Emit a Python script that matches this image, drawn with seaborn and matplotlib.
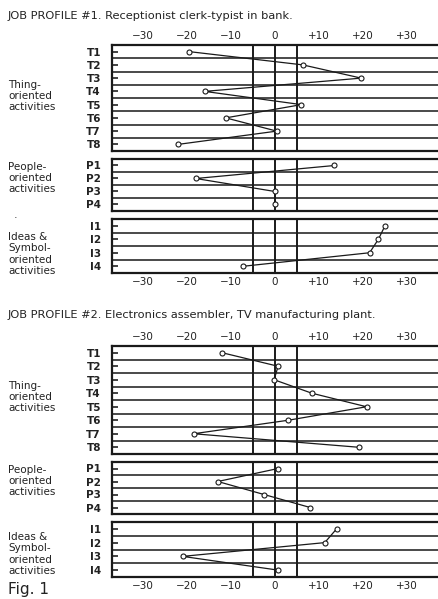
import numpy as np
import pandas as pd
import matplotlib
matplotlib.use("Agg")
import matplotlib.pyplot as plt
import seaborn as sns

sns.set_theme(style="white")
plt.rcParams['font.family'] = ['DejaVu Sans']

# ---------------- data ----------------
thing_rows = ["T1", "T2", "T3", "T4", "T5", "T6", "T7", "T8"]
people_rows = ["P1", "P2", "P3", "P4"]
ideas_rows = ["I1", "I2", "I3", "I4"]

p1_thing = [-19.5, 6.3, 19.6, -16, 6, -11.2, 0.4, -22]
p1_people = [13.5, -18, 0, 0]
p1_ideas = [25, 23.5, 21.5, -7.2]

p2_thing = [-12, 0.7, -0.2, 8.4, 20.8, 3, -18.5, 19]
p2_people = [0.7, -13, -2.5, 8]
p2_ideas = [14, 11.3, -21, 0.7]

xticks = [-30, -20, -10, 0, 10, 20, 30]
xtick_labels = ["\u221230", "\u221220", "\u221210", "0", "+10", "+20", "+30"]
ref_lines = [-5, 0, 5]

titles = ["JOB PROFILE #1. Receptionist clerk-typist in bank.",
          "JOB PROFILE #2. Electronics assembler, TV manufacturing plant."]
group_labels = ["Thing-\noriented\nactivities",
                "People-\noriented\nactivities",
                "Ideas &\nSymbol-\noriented\nactivities"]

# ---------------- layout ----------------
W, H = 438, 599
fig = plt.figure(figsize=(W / 100, H / 100), dpi=100)
fig.patch.set_facecolor("white")

LEFT, RIGHT = 112, 442
PX_PER_UNIT = 4.4
XMIN = -(275 - LEFT) / PX_PER_UNIT
XMAX = XMIN + (RIGHT - LEFT) / PX_PER_UNIT

def add_ax(top, bottom):
    return fig.add_axes([LEFT / W, 1 - bottom / H, (RIGHT - LEFT) / W, (bottom - top) / H])

def draw_panel(ax, rows, values, top_labels=False, bottom_labels=False):
    n = len(rows)
    df = pd.DataFrame({"row": np.arange(n), "value": values})
    sns.lineplot(data=df, x="value", y="row", sort=False, estimator=None,
                 ax=ax, color="#1a1a1a", lw=0.9, marker="o", markersize=3.6,
                 markerfacecolor="white", markeredgecolor="#1a1a1a",
                 markeredgewidth=0.8, legend=False)
    ax.set_xlim(XMIN, XMAX)
    ax.set_ylim(n - 0.5, -0.5)
    ax.set_yticks(np.arange(n))
    ax.set_yticklabels(rows, fontsize=7.5, fontweight="bold", color="#222")
    ax.set_yticks(np.arange(0.5, n - 0.5), minor=True)
    ax.grid(axis="y", which="minor", color="#2a2a2a", lw=1.2)
    ax.grid(axis="x", visible=False)
    ax.grid(axis="y", which="major", visible=False)
    for xv in ref_lines:
        ax.axvline(xv, color="#1a1a1a", lw=1.4, zorder=1)
    ax.tick_params(axis="y", which="major", direction="in", length=4, width=1.2,
                   color="#222", pad=8, left=True)
    ax.tick_params(axis="y", which="minor", length=0)
    ax.set_xticks(xticks)
    ax.set_xticklabels(xtick_labels, fontsize=7.5, color="#222")
    ax.tick_params(axis="x", length=0, top=False, bottom=False,
                   labeltop=top_labels, labelbottom=bottom_labels, pad=3)
    ax.set_xlabel("")
    ax.set_ylabel("")
    for s in ["left", "top", "bottom", "right"]:
        ax.spines[s].set_color("#1a1a1a")
        ax.spines[s].set_linewidth(1.6)

profiles = [
    dict(title_y=16, panels=[(45, 151), (159, 211), (219, 273)],
         vals=[p1_thing, p1_people, p1_ideas],
         glab_y=[96, 178, 254], dot_y=218),
    dict(title_y=315, panels=[(346, 454), (462, 514), (522, 577)],
         vals=[p2_thing, p2_people, p2_ideas],
         glab_y=[397, 481, 554], dot_y=None),
]

row_sets = [thing_rows, people_rows, ideas_rows]
for prof, title in zip(profiles, titles):
    fig.text(8 / W, 1 - prof["title_y"] / H, title, fontsize=8.2, va="center",
             ha="left", color="#222")
    for i, ((top, bottom), vals, rows) in enumerate(zip(prof["panels"], prof["vals"], row_sets)):
        ax = add_ax(top, bottom)
        draw_panel(ax, rows, vals, top_labels=(i == 0), bottom_labels=(i == 2))
    for gl, gy in zip(group_labels, prof["glab_y"]):
        fig.text(8 / W, 1 - gy / H, gl, fontsize=7.5, va="center", ha="left",
                 color="#222", linespacing=1.15)
    if prof["dot_y"]:
        fig.text(14 / W, 1 - prof["dot_y"] / H, "\u00b7", fontsize=8, va="center",
                 ha="left", color="#333")

fig.text(8 / W, 1 - 597 / H, "Fig. 1", fontsize=11, va="bottom", ha="left", color="#222")

fig.savefig("out.png", dpi=100)
